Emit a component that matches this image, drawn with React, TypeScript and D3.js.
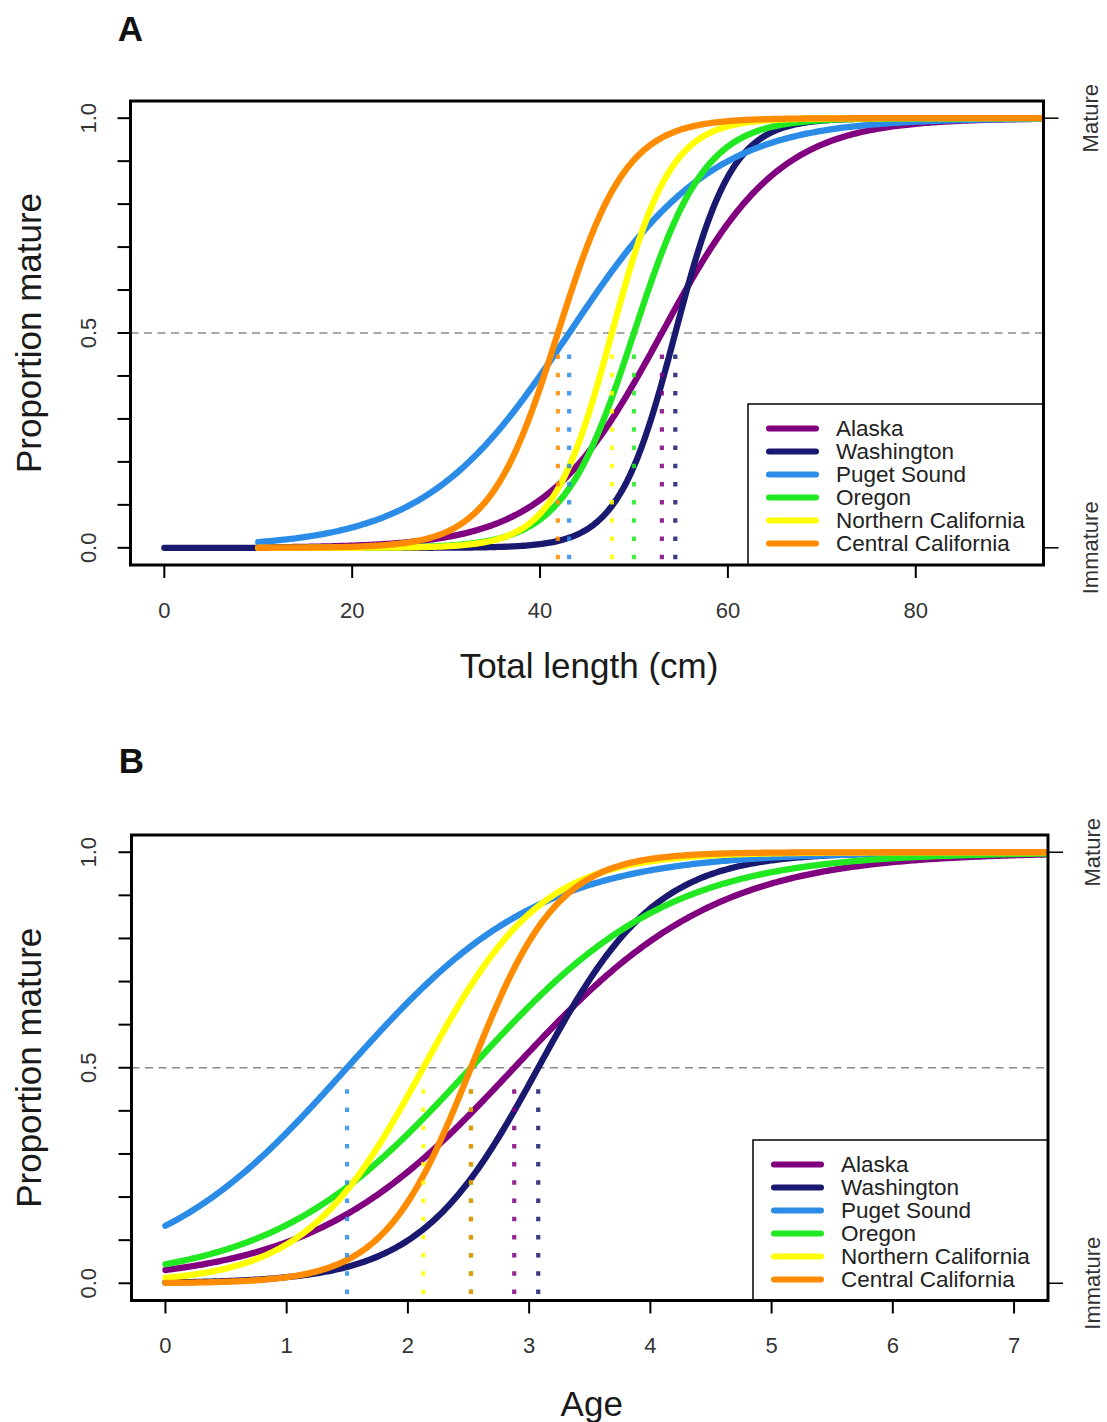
import React from "react";
import * as d3 from "d3";

// ---------- data ----------
const regions = [
  "Alaska",
  "Washington",
  "Puget Sound",
  "Oregon",
  "Northern California",
  "Central California",
];
const regionColors = ["#800080", "#191970", "#2b8ce8", "#22e822", "#ffff00", "#ff8c00"];

// Panel A: maturity by total length (logistic ogive parameters)
const lengthL50 = [52.97, 54.4, 43.1, 50.0, 47.65, 41.9];
const lengthSlope = [0.16, 0.33, 0.13, 0.265, 0.32, 0.275];
const lengthStart = [10, 0, 10, 10, 10, 10];
const lengthEnd = 95;
const lengthTicks = [0, 20, 40, 60, 80];

// Panel B: maturity by age
const ageA50 = [2.877, 3.075, 1.498, 2.52, 2.127, 2.52];
const ageSlope = [1.2, 2.05, 1.25, 1.22, 2.05, 2.8];
const ageStart = [0, 0, 0, 0, 0, 0];
const ageEnd = 7.5;
const ageTicks = [0, 1, 2, 3, 4, 5, 6, 7];

const propTicks = [0, 0.1, 0.2, 0.3, 0.4, 0.5, 0.6, 0.7, 0.8, 0.9, 1.0];
const propLabelTicks = [0, 0.5, 1.0];
const sideLabels = ["Immature", "Mature"];

const FONT = "'Liberation Sans', Arial, Helvetica, sans-serif";

type Box = { left: number; right: number; top: number; bottom: number };

type PanelProps = {
  id: string;
  letter: string;
  letterY: number;
  box: Box;
  xDomain: [number, number];
  xTicks: number[];
  xTitle: string;
  l50: number[];
  slope: number[];
  start: number[];
  end: number;
  step: number;
  legendLeft: number;
  legendTop: number;
  tickLabelDy: number;
  titleDy: number;
  sideDx: number;
};

function Panel(p: PanelProps) {
  const { box } = p;
  const x = d3.scaleLinear().domain(p.xDomain).range([box.left, box.right]);
  const y = d3.scaleLinear().domain([-0.04, 1.04]).range([box.bottom, box.top]);
  const line = d3
    .line<[number, number]>()
    .x((d) => x(d[0]))
    .y((d) => y(d[1]));

  const curves = regions.map((_, i) => {
    const xs = d3.range(p.start[i], p.end + p.step / 2, p.step);
    const pts: [number, number][] = xs.map((v) => [
      v,
      1 / (1 + Math.exp(-p.slope[i] * (v - p.l50[i]))),
    ]);
    return line(pts) || "";
  });

  const clipId = `clip-${p.id}`;
  const midY = (y(0) + y(1)) / 2;
  const legendRowH = 23;

  return (
    <g>
      <defs>
        <clipPath id={clipId}>
          <rect x={box.left} y={box.top} width={box.right - box.left} height={box.bottom - box.top} />
        </clipPath>
      </defs>
      <text
        x={box.left}
        y={p.letterY}
        textAnchor="middle"
        fontFamily={FONT}
        fontWeight="bold"
        fontSize={35}
        fill="#111"
      >
        {p.letter}
      </text>

      {/* 0.5 reference line */}
      <line
        x1={box.left}
        x2={box.right}
        y1={y(0.5)}
        y2={y(0.5)}
        stroke="#8a8a8a"
        strokeWidth={1.4}
        strokeDasharray="8 5.5"
      />

      <g clipPath={`url(#${clipId})`}>
        {curves.map((d, i) => (
          <path
            key={regions[i]}
            d={d}
            fill="none"
            stroke={regionColors[i]}
            strokeWidth={6.3}
            strokeLinecap="round"
            strokeLinejoin="round"
          />
        ))}
        {p.l50.map((v, i) => (
          <line
            key={"d" + i}
            x1={x(v)}
            x2={x(v)}
            y1={y(0.45)}
            y2={box.bottom}
            stroke={regionColors[i]}
            strokeOpacity={0.85}
            strokeWidth={4.2}
            strokeDasharray="4.5 13.7"
          />
        ))}
      </g>

      {/* x axis */}
      {p.xTicks.map((t) => (
        <g key={"x" + t}>
          <line x1={x(t)} x2={x(t)} y1={box.bottom} y2={box.bottom + 13} stroke="#000" strokeWidth={2} />
          <text
            x={x(t)}
            y={box.bottom + p.tickLabelDy}
            textAnchor="middle"
            dominantBaseline="central"
            fontFamily={FONT}
            fontSize={22}
            fill="#333"
          >
            {t}
          </text>
        </g>
      ))}
      <text
        x={(box.left + box.right) / 2 + 2}
        y={box.bottom + p.titleDy}
        textAnchor="middle"
        dominantBaseline="central"
        fontFamily={FONT}
        fontSize={35}
        fill="#1a1a1a"
      >
        {p.xTitle}
      </text>

      {/* left y axis */}
      {propTicks.map((t) => (
        <line key={"y" + t} x1={box.left - 13} x2={box.left} y1={y(t)} y2={y(t)} stroke="#000" strokeWidth={2} />
      ))}
      {propLabelTicks.map((t) => (
        <text
          key={"yl" + t}
          transform={`translate(88,${y(t)}) rotate(-90)`}
          textAnchor="middle"
          dominantBaseline="central"
          fontFamily={FONT}
          fontSize={22}
          fill="#333"
        >
          {t.toFixed(1)}
        </text>
      ))}
      <text
        transform={`translate(28,${midY}) rotate(-90)`}
        textAnchor="middle"
        dominantBaseline="central"
        fontFamily={FONT}
        fontSize={35}
        fill="#1a1a1a"
      >
        Proportion mature
      </text>

      {/* right axis */}
      {[0, 1].map((t, i) => (
        <g key={"r" + t}>
          <line x1={box.right} x2={box.right + 15} y1={y(t)} y2={y(t)} stroke="#000" strokeWidth={1.5} />
          <text
            transform={`translate(${box.right + p.sideDx},${y(t)}) rotate(-90)`}
            textAnchor="middle"
            dominantBaseline="central"
            fontFamily={FONT}
            fontSize={22}
            fill="#333"
          >
            {sideLabels[i]}
          </text>
        </g>
      ))}

      {/* legend */}
      <rect
        x={p.legendLeft}
        y={p.legendTop}
        width={box.right - p.legendLeft}
        height={box.bottom - p.legendTop}
        fill="#fff"
        stroke="#000"
        strokeWidth={1.5}
      />
      {regions.map((r, i) => {
        const ry = p.legendTop + 24.5 + i * legendRowH;
        return (
          <g key={"lg" + r}>
            <line
              x1={p.legendLeft + 21}
              x2={p.legendLeft + 68}
              y1={ry}
              y2={ry}
              stroke={regionColors[i]}
              strokeWidth={6}
              strokeLinecap="round"
            />
            <text
              x={p.legendLeft + 88}
              y={ry}
              dominantBaseline="central"
              fontFamily={FONT}
              fontSize={22.5}
              fill="#222"
            >
              {r}
            </text>
          </g>
        );
      })}

      {/* box */}
      <rect
        x={box.left}
        y={box.top}
        width={box.right - box.left}
        height={box.bottom - box.top}
        fill="none"
        stroke="#000"
        strokeWidth={3}
      />
    </g>
  );
}

export default function App() {
  return (
    <svg
      width={1107}
      height={1422}
      viewBox="0 0 1107 1422"
      style={{ position: "absolute", left: 0, top: 0, background: "#fff" }}
    >
      <rect x={0} y={0} width={1107} height={1422} fill="#fff" />
      <Panel
        id="A"
        letter="A"
        letterY={41}
        box={{ left: 130.5, right: 1043.5, top: 101, bottom: 565 }}
        xDomain={[-3.6, 93.6]}
        xTicks={lengthTicks}
        xTitle="Total length (cm)"
        l50={lengthL50}
        slope={lengthSlope}
        start={lengthStart}
        end={lengthEnd}
        step={0.25}
        legendLeft={748}
        legendTop={404}
        tickLabelDy={45}
        titleDy={100}
        sideDx={47}
      />
      <Panel
        id="B"
        letter="B"
        letterY={773}
        box={{ left: 131.5, right: 1048, top: 835, bottom: 1300.5 }}
        xDomain={[-0.28, 7.28]}
        xTicks={ageTicks}
        xTitle="Age"
        l50={ageA50}
        slope={ageSlope}
        start={ageStart}
        end={ageEnd}
        step={0.02}
        legendLeft={753}
        legendTop={1140}
        tickLabelDy={44.5}
        titleDy={102.5}
        sideDx={44}
      />
    </svg>
  );
}
